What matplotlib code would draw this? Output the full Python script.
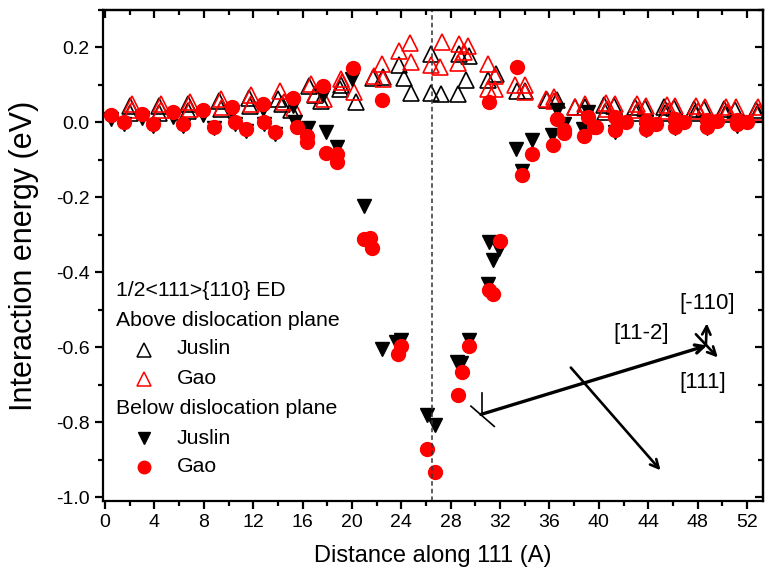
import matplotlib
matplotlib.use("Agg")
import matplotlib.pyplot as plt
from matplotlib.ticker import MultipleLocator

plt.rcParams['font.family'] = ['Liberation Sans', 'DejaVu Sans']

# ---- data ----
# Juslin, above dislocation plane (open black triangles)
ja_x = [2.0, 2.0, 4.35, 4.35, 6.75, 6.75, 9.25, 9.35, 11.65, 11.7, 14.0, 14.3, 15.1, 16.5,
        17.0, 17.5, 19.0, 19.1, 20.35, 21.7, 22.5, 23.85, 24.2, 24.8, 26.4, 26.4, 27.2,
        28.6, 28.7, 29.2, 29.45, 31.0, 31.7, 33.4, 34.0, 35.8, 36.6, 38.1, 38.9,
        40.4, 40.5, 41.2, 42.9, 43.0, 43.7, 45.3, 45.4, 46.1, 47.7, 47.8, 48.5, 50.1,
        50.2, 51.0, 52.7, 52.8]
ja_y = [0.044, 0.026, 0.044, 0.026, 0.048, 0.030, 0.057, 0.035, 0.066, 0.044, 0.063, 0.048,
        0.033, 0.097, 0.072, 0.057, 0.090, 0.101, 0.054, 0.119, 0.121, 0.152, 0.119, 0.078,
        0.183, 0.078, 0.077, 0.077, 0.183, 0.112, 0.176, 0.112, 0.130, 0.085, 0.085, 0.059,
        0.059, 0.041, 0.041, 0.046, 0.029, 0.044, 0.042, 0.026, 0.039, 0.040, 0.024, 0.039,
        0.037, 0.024, 0.036, 0.036, 0.022, 0.034, 0.034, 0.022]

# Gao, above dislocation plane (open red triangles)
ga_x = [2.15, 2.15, 4.5, 4.5, 6.9, 6.9, 9.4, 9.5, 11.8, 11.85, 14.2, 14.5, 15.3, 16.7, 17.0,
        17.7, 19.1, 19.2, 20.2, 21.8, 22.4, 22.5, 23.85, 24.7, 24.8, 26.4, 27.1, 27.3, 28.6,
        28.7, 29.1, 29.4, 31.0, 31.0, 31.6, 31.6, 33.2, 34.0, 34.0, 35.7, 36.4, 36.4, 38.1,
        38.9, 40.55, 40.65, 41.35, 43.1, 43.2, 43.8, 45.5, 45.6, 46.2, 47.9, 48.0, 48.6,
        50.3, 50.4, 51.1, 52.9, 53.0]
ga_y = [0.050, 0.032, 0.050, 0.032, 0.054, 0.036, 0.063, 0.041, 0.072, 0.050, 0.085, 0.054,
        0.039, 0.103, 0.077, 0.063, 0.116, 0.107, 0.081, 0.125, 0.156, 0.116, 0.190, 0.211,
        0.161, 0.152, 0.147, 0.214, 0.158, 0.208, 0.188, 0.205, 0.156, 0.090, 0.125, 0.090,
        0.099, 0.100, 0.081, 0.063, 0.069, 0.058, 0.041, 0.050, 0.052, 0.035, 0.050, 0.048,
        0.032, 0.045, 0.046, 0.030, 0.045, 0.043, 0.030, 0.042, 0.042, 0.028, 0.040, 0.040,
        0.028]

# Juslin, below dislocation plane (filled black down triangles)
jb_x = [0.5, 1.5, 3.0, 3.9, 5.5, 6.3, 7.9, 8.8, 10.3, 10.5, 11.4, 12.8, 12.9, 13.8, 15.2,
        15.4, 16.4, 17.65, 17.9, 18.8, 20.0, 21.0, 22.4, 23.6, 24.0, 26.05, 26.75, 28.5,
        28.8, 29.45, 31.05, 31.1, 31.4, 31.9, 33.3, 33.8, 34.6, 36.2, 36.6, 37.2, 38.7,
        39.1, 41.3, 41.3, 43.8, 43.8, 46.2, 46.2, 48.8, 48.8, 51.2, 51.2]
jb_y = [0.010, -0.005, 0.012, -0.010, 0.015, -0.010, 0.020, -0.015, 0.028, -0.005, -0.022,
        0.035, -0.005, -0.030, 0.043, 0.000, -0.014, 0.072, -0.026, -0.066, 0.116, -0.224,
        -0.604, -0.587, -0.581, -0.781, -0.806, -0.639, -0.642, -0.580, -0.430, -0.319,
        -0.366, -0.337, -0.070, -0.130, -0.046, -0.033, 0.034, -0.004, -0.017, 0.028,
        0.005, -0.025, 0.000, -0.020, 0.003, -0.015, 0.000, -0.015, 0.000, -0.010]

# Gao, below dislocation plane (filled red circles)
gb_x = [0.5, 1.5, 3.0, 3.9, 5.5, 6.3, 7.9, 8.8, 10.3, 10.5, 11.4, 12.8, 12.9, 13.8, 15.2,
        15.55, 16.35, 16.35, 17.65, 17.87, 18.8, 18.8, 20.1, 21.0, 21.5, 21.6, 22.4, 23.7,
        24.0, 26.1, 26.75, 28.55, 28.9, 29.5, 31.1, 31.1, 31.45, 32.0, 33.4, 33.8, 34.6,
        36.3, 36.65, 37.2, 37.2, 38.8, 39.1, 39.6, 39.75, 41.35, 41.35, 42.2, 43.8, 43.8,
        44.6, 46.2, 46.2, 46.9, 48.8, 48.8, 49.6, 51.2, 51.2, 52.0]
gb_y = [0.020, 0.000, 0.022, -0.005, 0.027, -0.005, 0.034, -0.011, 0.040, 0.000, -0.017,
        0.050, 0.000, -0.026, 0.066, -0.012, -0.035, -0.052, 0.096, -0.082, -0.085, -0.106,
        0.145, -0.310, -0.307, -0.335, 0.061, -0.619, -0.597, -0.870, -0.932, -0.726,
        -0.666, -0.597, 0.054, -0.446, -0.459, -0.316, 0.147, -0.139, -0.084, -0.061,
        0.010, -0.021, -0.029, -0.035, 0.014, -0.012, -0.012, 0.014, -0.020, 0.001, 0.005,
        -0.017, -0.004, 0.010, -0.012, 0.000, 0.007, -0.012, 0.005, 0.007, -0.005, 0.002]

core_x = 26.5
x_ticks = list(range(0, 53, 4))

# ---- figure ----
W, H = 765, 581
fig = plt.figure(figsize=(W / 100, H / 100), dpi=100)
ax = fig.add_axes([103 / W, 80 / H, 660 / W, 491 / H])

ax.plot(ja_x, ja_y, ls='none', marker='^', ms=11, mfc='none', mec='black', mew=1.2)
ax.plot(ga_x, ga_y, ls='none', marker='^', ms=11, mfc='none', mec='red', mew=1.2)
ax.plot(jb_x, jb_y, ls='none', marker='v', ms=10, mfc='black', mec='black')
ax.plot(gb_x, gb_y, ls='none', marker='o', ms=10, mfc='red', mec='red')

ax.axvline(core_x, color='#333333', ls=(0, (3, 2)), lw=1.1)

ax.set_xlim(-0.17, 53.3)
ax.set_ylim(-1.01, 0.3)
ax.set_xticks(x_ticks)
ax.xaxis.set_minor_locator(MultipleLocator(2))
ax.yaxis.set_minor_locator(MultipleLocator(0.1))
ax.set_yticks([-1.0, -0.8, -0.6, -0.4, -0.2, 0.0, 0.2])
ax.set_yticklabels(['-1.0', '-0.8', '-0.6', '-0.4', '-0.2', '0.0', '0.2'])

for s in ax.spines.values():
    s.set_linewidth(1.6)
ax.tick_params(which='major', direction='out', length=6, width=1.6, labelsize=14,
               top=False, right=False)
ax.tick_params(which='minor', direction='out', length=3.5, width=1.6, top=False, right=False)

sx = ax.secondary_xaxis('top')
sx.set_xticks(x_ticks)
sx.xaxis.set_minor_locator(MultipleLocator(2))
sx.tick_params(which='major', direction='in', length=6, width=1.6, labeltop=False)
sx.tick_params(which='minor', direction='in', length=3.5, width=1.6)
sx.spines['top'].set_linewidth(1.6)
sy = ax.secondary_yaxis('right')
sy.yaxis.set_major_locator(MultipleLocator(0.2))
sy.yaxis.set_minor_locator(MultipleLocator(0.1))
sy.tick_params(which='major', direction='in', length=6, width=1.6, labelright=False)
sy.tick_params(which='minor', direction='in', length=3.5, width=1.6)
sy.spines['right'].set_linewidth(1.6)

ax.set_xlabel('Distance along 111 (A)', fontsize=17, labelpad=10)
ax.set_ylabel('Interaction energy (eV)', fontsize=22, labelpad=12)

# ---- legend (drawn manually) ----
def fx(px):
    return (px - 103) / 660

def fy(py):
    return (501 - py) / 491

fs = 15.3
t = ax.transAxes
ax.text(fx(116), fy(290), '1/2<111>{110} ED', transform=t, fontsize=fs, va='center')
ax.text(fx(116), fy(320), 'Above dislocation plane', transform=t, fontsize=fs, va='center')
ax.plot([fx(144)], [fy(350)], transform=t, marker='^', ms=10, mfc='none', mec='black', mew=1.1, clip_on=False)
ax.text(fx(177), fy(349), 'Juslin', transform=t, fontsize=fs, va='center')
ax.plot([fx(144)], [fy(379)], transform=t, marker='^', ms=10, mfc='none', mec='red', mew=1.1, clip_on=False)
ax.text(fx(177), fy(378), 'Gao', transform=t, fontsize=fs, va='center')
ax.text(fx(116), fy(408), 'Below dislocation plane', transform=t, fontsize=fs, va='center')
ax.plot([fx(144)], [fy(438)], transform=t, marker='v', ms=9, mfc='black', mec='black', clip_on=False)
ax.text(fx(177), fy(438), 'Juslin', transform=t, fontsize=fs, va='center')
ax.plot([fx(144)], [fy(467)], transform=t, marker='o', ms=9, mfc='red', mec='red', clip_on=False)
ax.text(fx(177), fy(467), 'Gao', transform=t, fontsize=fs, va='center')

# ---- crystal direction sketch ----
akw = dict(arrowstyle='->,head_length=0.6,head_width=0.3', color='black', lw=2.4,
           shrinkA=0, shrinkB=0)
ax.annotate('', xy=(48.77, -0.595), xytext=(30.45, -0.779), arrowprops=akw)
ax.annotate('', xy=(45.0, -0.928), xytext=(37.73, -0.654),
            arrowprops=dict(akw, lw=1.9))
ax.annotate('', xy=(48.75, -0.536), xytext=(48.67, -0.595),
            arrowprops=dict(akw, lw=1.9))
ax.annotate('', xy=(49.64, -0.627), xytext=(47.86, -0.565),
            arrowprops=dict(akw, lw=1.9))
ax.plot([30.53, 30.53], [-0.722, -0.779], color='black', lw=1.2)
ax.plot([29.64, 31.53], [-0.757, -0.811], color='black', lw=1.2)
ax.text(48.75, -0.483, '[-110]', fontsize=16, ha='center', va='center')
ax.text(43.4, -0.563, '[11-2]', fontsize=16, ha='center', va='center')
ax.text(48.4, -0.693, '[111]', fontsize=16, ha='center', va='center')

fig.savefig('out.png', dpi=100)
